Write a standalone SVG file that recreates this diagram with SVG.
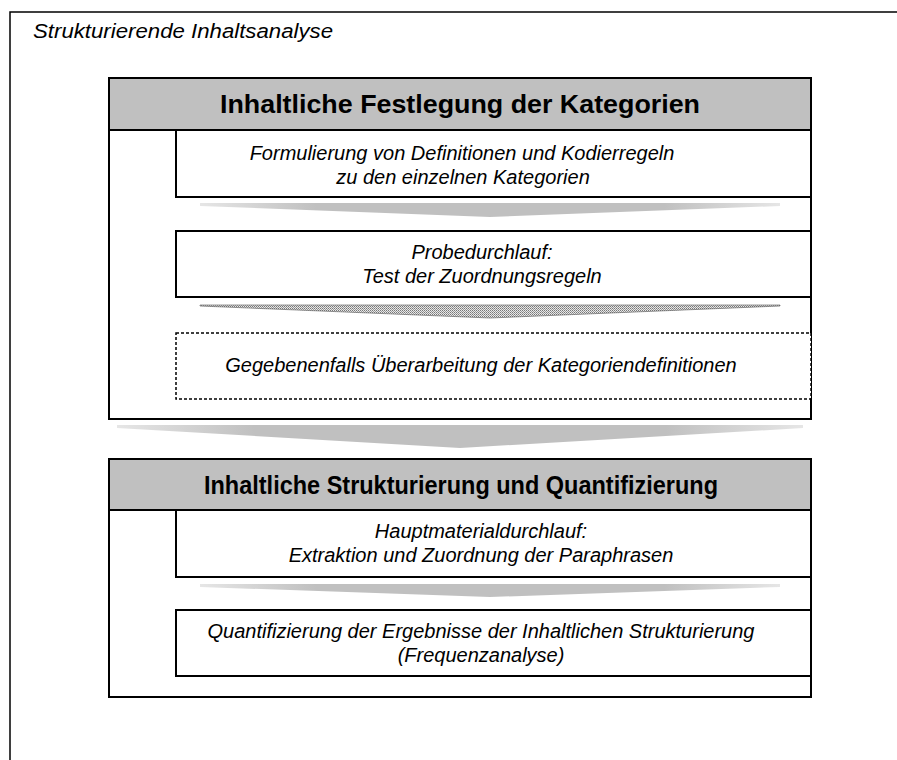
<svg xmlns="http://www.w3.org/2000/svg" width="897" height="760" viewBox="0 0 897 760">
<style>
.frame{fill:#fff;stroke:#000;stroke-width:1.5}
.box{fill:#fff;stroke:#000;stroke-width:2}
.hdr{fill:#c0c0c0;stroke:#000;stroke-width:2}
.dot{fill:#fff;stroke:#000;stroke-width:1.5;stroke-dasharray:3 2}
.t{font-family:"Liberation Sans",Arial,sans-serif;font-style:italic;font-size:20px;fill:#000;text-anchor:middle}
.h{font-family:"Liberation Sans",Arial,sans-serif;font-weight:bold;font-size:26px;fill:#000;text-anchor:middle}
</style>
<defs>
<linearGradient id="ag" x1="0" y1="0" x2="1" y2="0">
<stop offset="0" stop-color="#e6e6e6"/>
<stop offset="0.2" stop-color="#c0c0c0"/>
<stop offset="0.8" stop-color="#c0c0c0"/>
<stop offset="1" stop-color="#e6e6e6"/>
</linearGradient>
<pattern id="hatch" width="2" height="2" patternUnits="userSpaceOnUse">
<rect width="2" height="2" fill="#e8e8e8"/>
<rect width="1" height="1" fill="#777"/>
<rect x="1" y="1" width="1" height="1" fill="#999"/>
</pattern>
</defs>
<rect width="897" height="760" fill="#fff"/>
<g id="outer">
<rect class="frame" x="10" y="12" width="900" height="760"/>
<text x="33" y="38" class="t" style="text-anchor:start" textLength="300" lengthAdjust="spacingAndGlyphs">Strukturierende Inhaltsanalyse</text>
</g>
<g id="phase1">
<rect class="box" x="109" y="78" width="702" height="341"/>
<rect class="hdr" x="109" y="78" width="702" height="52"/>
<text x="460" y="113" class="h" textLength="480" lengthAdjust="spacingAndGlyphs">Inhaltliche Festlegung der Kategorien</text>
</g>
<g id="step1">
<rect class="box" x="176" y="130" width="635" height="67"/>
<text x="462" y="160" class="t">Formulierung von Definitionen und Kodierregeln</text>
<text x="463" y="184" class="t">zu den einzelnen Kategorien</text>
</g>
<g id="step2">
<rect class="box" x="176" y="231" width="635" height="66"/>
<text x="482" y="259" class="t">Probedurchlauf:</text>
<text x="482" y="283" class="t">Test der Zuordnungsregeln</text>
</g>
<g id="step3">
<rect class="dot" x="176" y="333" width="635" height="66"/>
<text x="481" y="372" class="t">Gegebenenfalls Überarbeitung der Kategoriendefinitionen</text>
</g>
<g id="phase2">
<rect class="box" x="109" y="459" width="702" height="238"/>
<rect class="hdr" x="109" y="459" width="702" height="51"/>
<text x="461" y="494" class="h" textLength="514" lengthAdjust="spacingAndGlyphs">Inhaltliche Strukturierung und Quantifizierung</text>
</g>
<g id="step4">
<rect class="box" x="176" y="510" width="635" height="67"/>
<text x="481" y="538" class="t">Hauptmaterialdurchlauf:</text>
<text x="481" y="562" class="t">Extraktion und Zuordnung der Paraphrasen</text>
</g>
<g id="step5">
<rect class="box" x="176" y="610" width="635" height="66"/>
<text x="481" y="638" class="t">Quantifizierung der Ergebnisse der Inhaltlichen Strukturierung</text>
<text x="481" y="662" class="t">(Frequenzanalyse)</text>
</g>
<g id="connectors">
<polygon points="200,203 780,203 780,206 490,217 200,206" fill="url(#ag)"/>
<polygon points="200,305 780,305 780,306 490,318 200,306" fill="url(#hatch)" stroke="#555" stroke-width="0.6"/>
<polygon points="117,425 803,425 803,428 460,448 117,428" fill="url(#ag)"/>
<polygon points="200,584 780,584 780,587 490,597 200,587" fill="url(#ag)"/>
</g>
</svg>
